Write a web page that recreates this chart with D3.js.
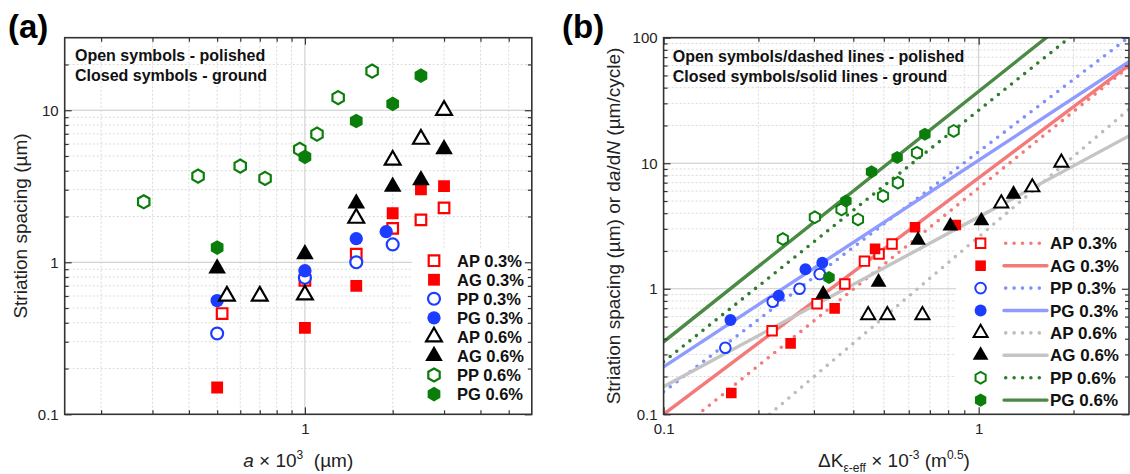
<!DOCTYPE html>
<html>
<head>
<meta charset="utf-8">
<script src="https://cdn.jsdelivr.net/npm/d3@7"></script>
<style>
  body { margin: 0; background: #fff; }
  svg { display: block; font-family: "Liberation Sans", Arial, sans-serif; }
</style>
</head>
<body>
<main></main>
<script>
// ---- data ----
const seriesNames = ["AP 0.3%", "AG 0.3%", "PP 0.3%", "PG 0.3%", "AP 0.6%", "AG 0.6%", "PP 0.6%", "PG 0.6%"]

// (a) a x 10^3 (um) vs striation spacing (um)
const aAP03 = [[0.52, 0.46], [1, 0.76], [1.5, 1.13], [2, 1.67], [2.5, 1.9], [3, 2.28]]
const aAG03 = [[0.5, 0.15], [1, 0.37], [1.5, 0.7], [2, 2.1], [2.5, 3.02], [3, 3.17]]
const aPP03 = [[0.5, 0.34], [1, 0.79], [1.5, 1.0], [2, 1.31]]
const aPG03 = [[0.5, 0.56], [1, 0.88], [1.5, 1.43], [1.9, 1.59]]
const aAP06 = [[0.54, 0.6], [0.7, 0.6], [1, 0.61], [1.5, 1.95], [2, 4.7], [2.5, 6.45], [3, 10]]
const aAG06 = [[0.5, 0.91], [1, 1.13], [1.5, 2.44], [2, 3.14], [2.5, 3.47], [3, 5.55]]
const aPP06 = [[0.28, 2.5], [0.43, 3.69], [0.6, 4.29], [0.73, 3.56], [0.96, 5.53], [1.1, 6.97], [1.3, 12.1], [1.7, 18.1]]
const aPG06 = [[0.5, 1.25], [1, 4.94], [1.5, 8.5], [2, 11], [2.5, 16.9]]

// (b) dK eff x 10^-3 (m^0.5) vs striation spacing or da/dN
const bAP03 = [[0.221, 0.463], [0.307, 0.76], [0.376, 1.09], [0.434, 1.66], [0.483, 1.89], [0.531, 2.27]]
const bAG03 = [[0.164, 0.148], [0.253, 0.367], [0.349, 0.698], [0.469, 2.08], [0.628, 3.09], [0.846, 3.22]]
const bPP03 = [[0.157, 0.339], [0.222, 0.788], [0.27, 1.0], [0.313, 1.31]]
const bPG03 = [[0.163, 0.563], [0.232, 0.88], [0.282, 1.43], [0.319, 1.61]]
const bAP06 = [[0.446, 0.617], [0.513, 0.617], [0.663, 0.617], [1.18, 4.79], [1.48, 6.43], [1.83, 10.1]]
const bAG06 = [[0.321, 0.907], [0.481, 1.13], [0.642, 2.44], [0.813, 3.16], [1.02, 3.48], [1.29, 5.68]]
const bPP06 = [[0.239, 2.49], [0.302, 3.71], [0.367, 4.29], [0.414, 3.57], [0.497, 5.48], [0.554, 6.99], [0.637, 12.1], [0.833, 18.1]]
const bPG06 = [[0.335, 1.23], [0.379, 5.0], [0.457, 8.56], [0.551, 11.1], [0.675, 17.0]]

// (b) power-law fit lines, two end points each (clipped to the plot)
const fitAP03 = [[0.1, 0.06], [3, 58.7]]
const fitAG03 = [[0.1, 0.1], [3, 60.6]]
const fitPP03 = [[0.1, 0.151], [3, 101]]
const fitPG03 = [[0.1, 0.239], [3, 64.4]]
const fitAP06 = [[0.217, 0.1], [3, 26.9]]
const fitAG06 = [[0.1, 0.166], [3, 16.5]]
const fitPP06 = [[0.1, 0.262], [2, 106]]
const fitPG06 = [[0.1, 0.378], [1.7, 107.7]]

// tick labels
const aXTicks = [1]
const aYTicks = [0.1, 1, 10]
const bXTicks = [0.1, 1]
const bYTicks = [0.1, 1, 10, 100]

const aData = [aAP03, aAG03, aPP03, aPG03, aAP06, aAG06, aPP06, aPG06]
const bData = [bAP03, bAG03, bPP03, bPG03, bAP06, bAG06, bPP06, bPG06]
const bFits = [fitAP03, fitAG03, fitPP03, fitPG03, fitAP06, fitAG06, fitPP06, fitPG06]

// ---- styles ----
const markStyle = [
    { shape: "square", color: "#ff0000", open: true },
    { shape: "square", color: "#ff0000", open: false },
    { shape: "circle", color: "#1c3cff", open: true },
    { shape: "circle", color: "#1c3cff", open: false },
    { shape: "triangle", color: "#000000", open: true },
    { shape: "triangle", color: "#000000", open: false },
    { shape: "hexagon", color: "#0a7d0a", open: true },
    { shape: "hexagon", color: "#0a7d0a", open: false }
]
const lineStyle = [
    { color: "#f47a7a", dotted: true },
    { color: "#f47a7a", dotted: false },
    { color: "#7f8fff", dotted: true },
    { color: "#8f9cfd", dotted: false },
    { color: "#bdbdbd", dotted: true },
    { color: "#c4c4c4", dotted: false },
    { color: "#2f7d2f", dotted: true },
    { color: "#4a8a44", dotted: false }
]

const hexagon = {
    draw(ctx, size) {
        const r = Math.sqrt(size / 2.598)
        for (let i = 0; i < 6; i++) {
            const t = Math.PI / 3 * i - Math.PI / 2
            const px = r * Math.cos(t), py = r * Math.sin(t)
            if (i) ctx.lineTo(px, py); else ctx.moveTo(px, py)
        }
        ctx.closePath()
    }
}
const shapes = { square: d3.symbolSquare, circle: d3.symbolCircle, triangle: d3.symbolTriangle, hexagon: hexagon }
const areas = { square: 140, circle: 140, triangle: 135, hexagon: 140 }

const svg = d3.select("main")
    .append("svg")
    .attr("width", 1130)
    .attr("height", 474)

function marker(sel, st, k) {
    sel.attr("d", d3.symbol().type(shapes[st.shape]).size(areas[st.shape] * k * (st.open ? 0.8 : 1)))
        .attr("fill", st.open ? "#fff" : st.color)
        .attr("stroke", st.open ? st.color : "none")
        .attr("stroke-width", st.open ? 2.2 * Math.sqrt(k) : 0)
}

function panel(box, xDomain, yDomain, xTicks, yTicks, id) {
    const x = d3.scaleLog().domain(xDomain).range([box.left, box.right])
    const y = d3.scaleLog().domain(yDomain).range([box.bottom, box.top])
    const g = svg.append("g")

    svg.append("clipPath").attr("id", id)
        .append("rect")
        .attr("x", box.left).attr("y", box.top)
        .attr("width", box.right - box.left).attr("height", box.bottom - box.top)

    const xAll = x.ticks().filter(v => v > xDomain[0] * 1.001 && v < xDomain[1] * 0.999)
    const yAll = y.ticks().filter(v => v > yDomain[0] * 1.001 && v < yDomain[1] * 0.999)
    const isMajor = v => Math.abs(Math.log10(v) - Math.round(Math.log10(v))) < 1e-6

    // grid
    const grid = g.append("g")
    grid.selectAll(".gx").data(xAll).join("line")
        .attr("x1", d => x(d)).attr("x2", d => x(d))
        .attr("y1", box.top).attr("y2", box.bottom)
        .attr("stroke", d => isMajor(d) ? "#c9c9c9" : "#dadada")
        .attr("stroke-dasharray", d => isMajor(d) ? null : "2,2")
    grid.selectAll(".gy").data(yAll).join("line")
        .attr("y1", d => y(d)).attr("y2", d => y(d))
        .attr("x1", box.left).attr("x2", box.right)
        .attr("stroke", d => isMajor(d) ? "#c9c9c9" : "#dadada")
        .attr("stroke-dasharray", d => isMajor(d) ? null : "2,2")

    // axes, ticks pointing inwards on all four sides
    function axis(fn, scale, values, len, labels, tr, pad) {
        const a = fn(scale).tickValues(values).tickSizeInner(-len).tickSizeOuter(0)
            .tickPadding(pad).tickFormat(labels ? (d => labels.includes(d) ? String(d) : "") : "")
        const s = svg.append("g").attr("transform", tr).call(a)
        s.select(".domain").remove()
        s.attr("font-size", 15).attr("font-family", "Liberation Sans, Arial, sans-serif")
        s.selectAll("line").attr("stroke", "#333").attr("stroke-width", 1.2)
        s.selectAll("text").attr("fill", "#222")
    }
    const xMaj = xAll.filter(isMajor).concat(xTicks.filter(v => !xAll.includes(v)))
    const yMaj = yAll.filter(isMajor).concat(yTicks.filter(v => !yAll.includes(v)))
    const xMin = xAll.filter(v => !isMajor(v))
    const yMin = yAll.filter(v => !isMajor(v))
    axis(d3.axisBottom, x, xMaj, 7, xTicks, `translate(0,${box.bottom})`, 9)
    axis(d3.axisBottom, x, xMin, 4, null, `translate(0,${box.bottom})`, 9)
    axis(d3.axisTop, x, xMaj, 7, null, `translate(0,${box.top})`, 3)
    axis(d3.axisTop, x, xMin, 4, null, `translate(0,${box.top})`, 3)
    axis(d3.axisLeft, y, yMaj, 7, yTicks, `translate(${box.left},0)`, 6)
    axis(d3.axisLeft, y, yMin, 4, null, `translate(${box.left},0)`, 6)
    axis(d3.axisRight, y, yMaj, 7, null, `translate(${box.right},0)`, 3)
    axis(d3.axisRight, y, yMin, 4, null, `translate(${box.right},0)`, 3)

    // frame
    svg.append("rect")
        .attr("x", box.left).attr("y", box.top)
        .attr("width", box.right - box.left).attr("height", box.bottom - box.top)
        .attr("fill", "none").attr("stroke", "#333").attr("stroke-width", 1.6)

    return { x, y, g }
}

// ---------- panel (a) ----------
const boxA = { left: 64.7, right: 531.8, top: 37.7, bottom: 414.3 }
const pa = panel(boxA, [0.15, 6], [0.1, 30], aXTicks, aYTicks, "clipA")

pa.g.append("rect").attr("x", 412).attr("y", 249)
    .attr("width", boxA.right - 412).attr("height", boxA.bottom - 249).attr("fill", "#fff")

aData.forEach((data, i) => {
    pa.g.append("g").attr("clip-path", "url(#clipA)")
        .selectAll("path").data(data).join("path")
        .attr("transform", d => `translate(${pa.x(d[0])},${pa.y(d[1])})`)
        .call(marker, markStyle[i], 1)
})

const legA = svg.append("g")
seriesNames.forEach((name, i) => {
    const cy = 260.7 + i * 19.05
    legA.append("path").attr("transform", `translate(434,${cy})`).call(marker, markStyle[i], 1)
    legA.append("text").attr("x", 457).attr("y", cy + 6)
        .attr("font-size", 16.5).attr("font-weight", "bold").attr("fill", "#111").text(name)
})

svg.append("text").attr("x", 75).attr("y", 60.5).attr("font-size", 16).attr("font-weight", "bold")
    .attr("fill", "#111").text("Open symbols - polished")
svg.append("text").attr("x", 75).attr("y", 80.5).attr("font-size", 16).attr("font-weight", "bold")
    .attr("fill", "#111").text("Closed symbols - ground")

svg.append("text").attr("x", 8).attr("y", 38).attr("font-size", 33).attr("font-weight", "bold").text("(a)")

const xLabA = svg.append("text").attr("x", (boxA.left + boxA.right) / 2).attr("y", 467)
    .attr("text-anchor", "middle").attr("font-size", 19).attr("fill", "#222")
xLabA.append("tspan").attr("font-style", "italic").text("a")
xLabA.append("tspan").text(" × 10")
xLabA.append("tspan").attr("font-size", 12).attr("dy", -8).text("3")
xLabA.append("tspan").attr("dy", 8).text("\u00a0 (µm)")

svg.append("text").attr("transform", `translate(27,${(boxA.top + boxA.bottom) / 2}) rotate(-90)`)
    .attr("text-anchor", "middle").attr("font-size", 19).attr("fill", "#222")
    .text("Striation spacing (µm)")

// ---------- panel (b) ----------
const boxB = { left: 663.6, right: 1129, top: 37.7, bottom: 414.3 }
const pb = panel(boxB, [0.1, 3], [0.1, 100], bXTicks, bYTicks, "clipB")

pb.g.append("rect").attr("x", 956).attr("y", 231)
    .attr("width", boxB.right - 956).attr("height", boxB.bottom - 231).attr("fill", "#fff")

const fitLine = d3.line().x(d => pb.x(d[0])).y(d => pb.y(d[1]))
const fitG = pb.g.append("g").attr("clip-path", "url(#clipB)")
bFits.forEach((pts, i) => {
    const st = lineStyle[i]
    fitG.append("path").attr("d", fitLine(pts))
        .attr("fill", "none").attr("stroke", st.color)
        .attr("stroke-width", st.dotted ? 3.6 : 3.4)
        .attr("stroke-linecap", "round")
        .attr("stroke-dasharray", st.dotted ? "0 8.4" : null)
})

bData.forEach((data, i) => {
    pb.g.append("g").attr("clip-path", "url(#clipB)")
        .selectAll("path").data(data).join("path")
        .attr("transform", d => `translate(${pb.x(d[0])},${pb.y(d[1])})`)
        .call(marker, markStyle[i], 0.8)
})

const legB = svg.append("g")
seriesNames.forEach((name, i) => {
    const cy = 243.3 + i * 22.4
    const st = lineStyle[i]
    legB.append("path").attr("transform", `translate(980.6,${cy})`).call(marker, markStyle[i], 0.8)
    legB.append("line")
        .attr("x1", st.dotted ? 1005.7 : 1004).attr("x2", st.dotted ? 1041 : 1047)
        .attr("y1", cy).attr("y2", cy)
        .attr("stroke", st.color).attr("stroke-width", st.dotted ? 3.6 : 3.4)
        .attr("stroke-linecap", "round")
        .attr("stroke-dasharray", st.dotted ? "0 8.4" : null)
    legB.append("text").attr("x", 1050).attr("y", cy + 6)
        .attr("font-size", 17).attr("font-weight", "bold").attr("fill", "#111").text(name)
})

svg.append("text").attr("x", 672.7).attr("y", 61.7).attr("font-size", 16).attr("font-weight", "bold")
    .attr("fill", "#111").text("Open symbols/dashed lines - polished")
svg.append("text").attr("x", 672.7).attr("y", 81.7).attr("font-size", 16).attr("font-weight", "bold")
    .attr("fill", "#111").text("Closed symbols/solid lines - ground")

svg.append("text").attr("x", 562).attr("y", 38).attr("font-size", 33).attr("font-weight", "bold").text("(b)")

const xLabB = svg.append("text").attr("x", 894).attr("y", 467)
    .attr("text-anchor", "middle").attr("font-size", 19).attr("fill", "#222")
xLabB.append("tspan").text("ΔK")
xLabB.append("tspan").attr("font-size", 12).attr("dy", 5).text("ε-eff")
xLabB.append("tspan").attr("dy", -5).text(" × 10")
xLabB.append("tspan").attr("font-size", 12).attr("dy", -8).text("-3")
xLabB.append("tspan").attr("dy", 8).text(" (m")
xLabB.append("tspan").attr("font-size", 12).attr("dy", -8).text("0.5")
xLabB.append("tspan").attr("dy", 8).text(")")

const yLabB = svg.append("text").attr("transform", `translate(619.5,${(boxB.top + boxB.bottom) / 2}) rotate(-90)`)
    .attr("text-anchor", "middle").attr("font-size", 19).attr("fill", "#222")
yLabB.append("tspan").text("Striation spacing (µm) or d")
yLabB.append("tspan").attr("font-style", "italic").text("a")
yLabB.append("tspan").text("/d")
yLabB.append("tspan").attr("font-style", "italic").text("N")
yLabB.append("tspan").text(" (µm/cycle)")
</script>
</body>
</html>
